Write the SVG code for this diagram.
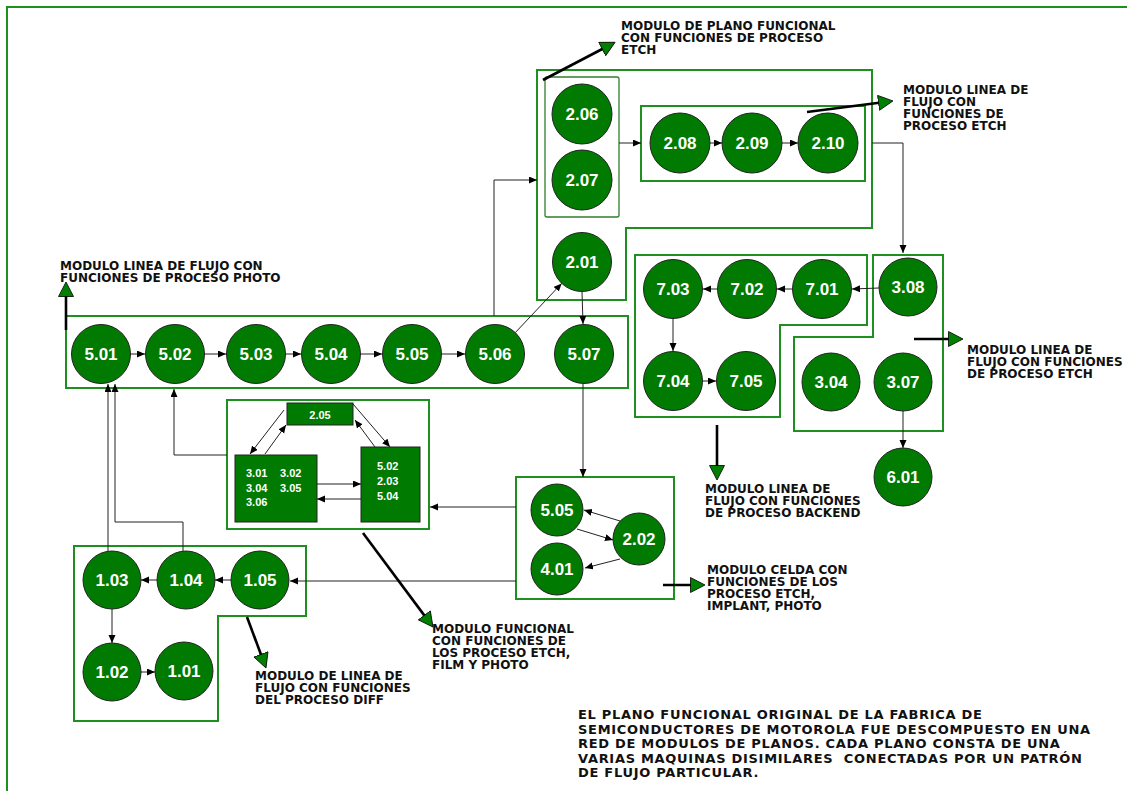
<svg xmlns="http://www.w3.org/2000/svg" width="1127" height="791" viewBox="0 0 1127 791">
<style>
.mod{fill:none;stroke:#1f8f1f;stroke-width:2}
.inner{fill:none;stroke:#2f7f2f;stroke-width:1.3}
.nd circle{fill:#007a00;stroke:#222;stroke-width:1}
.nd text{font-family:"Liberation Sans",Arial,sans-serif;font-weight:bold;font-size:17px;fill:#fff;text-anchor:middle}
.box{fill:#007a00;stroke:#222;stroke-width:1}
.bt{font-family:"Liberation Sans",Arial,sans-serif;font-weight:bold;font-size:11px;fill:#fff}
.lbl{font-family:"DejaVu Sans",Verdana,sans-serif;font-weight:bold;font-size:12px;fill:#111}
.big{font-family:"DejaVu Sans",Verdana,sans-serif;font-weight:bold;font-size:13px;letter-spacing:0.7px;fill:#111}
.c{fill:none;stroke:#222;stroke-width:1;marker-end:url(#a)}
.g{fill:none;stroke:#000;stroke-width:2.6;marker-end:url(#gh)}
</style>
<defs>
<marker id="a" markerUnits="userSpaceOnUse" markerWidth="9" markerHeight="8" refX="8" refY="3.5" orient="auto">
<path d="M0,0 L8,3.5 L0,7 z" fill="#000"/>
</marker>
<marker id="gh" markerUnits="userSpaceOnUse" markerWidth="18" markerHeight="18" refX="7" refY="8" orient="auto">
<path d="M0.5,0.5 L15,8 L0.5,15.5 z" fill="#008000" stroke="#000" stroke-width="0.8"/>
</marker>
</defs>
<rect width="1127" height="791" fill="#fff"/>
<path d="M7,791 L7,7 L1127,7" fill="none" stroke="#1f8f1f" stroke-width="2"/>

<g id="modules">
<path class="mod" d="M537,70 L872,70 L872,228 L626,228 L626,300 L537,300 Z"/>
<rect class="inner" x="545" y="77" width="74" height="140" rx="2"/>
<rect class="mod" x="641" y="106" width="224" height="75"/>
<rect class="mod" x="66" y="316" width="562" height="72"/>
<path class="mod" d="M635,255 L867,255 L867,325 L780,325 L780,417 L635,417 Z"/>
<path class="mod" d="M873,255 L943,255 L943,431 L794,431 L794,337 L873,337 Z"/>
<rect class="mod" x="227" y="400" width="202" height="129"/>
<rect class="mod" x="516" y="477" width="158" height="122"/>
<path class="mod" d="M74,546 L306,546 L306,616 L218,616 L218,721 L74,721 Z"/>
</g>

<g id="connectors">
<path class="c" d="M131,354 L145,354"/>
<path class="c" d="M205,354 L226,354"/>
<path class="c" d="M286,354 L301,354"/>
<path class="c" d="M361,354 L382,354"/>
<path class="c" d="M442,354 L465,354"/>
<path class="c" d="M515.3,332.6 L561.7,283.4"/>
<path class="c" d="M582,292 L583,324"/>
<path class="c" d="M494,316 L494,180 L537,180"/>
<path class="c" d="M619,143 L641,143"/>
<path class="c" d="M710,143 L722,143"/>
<path class="c" d="M782,143 L798,143"/>
<path class="c" d="M872,143 L903,143 L903,253"/>
<path class="c" d="M879,288 L852,289"/>
<path class="c" d="M792,289 L777,289"/>
<path class="c" d="M717,289 L703,289"/>
<path class="c" d="M673,319 L673,351"/>
<path class="c" d="M703,381 L716,381"/>
<path class="c" d="M903,411 L903,448"/>
<path class="c" d="M583,384 L583,477"/>
<path class="c" d="M516,507 L430,507"/>
<path class="c" d="M516,581 L290,581"/>
<path class="c" d="M227,455 L174,455 L174,389"/>
<path class="c" d="M108,551 L108,384"/>
<path class="c" d="M183,551 L183,522 L115,522 L115,384"/>
<path class="c" d="M231,580 L215,580"/>
<path class="c" d="M157,580 L141,580"/>
<path class="c" d="M112,609 L112,643"/>
<path class="c" d="M141,672 L155,672"/>
<path class="c" d="M620,521 L584,510"/>
<path class="c" d="M577,529 L613,540"/>
<path class="c" d="M620,559 L585,568"/>
<path class="c" d="M284,410 L250,454"/>
<path class="c" d="M265,454 L286,425"/>
<path class="c" d="M353,404 L390,447"/>
<path class="c" d="M375,447 L355,420"/>
<path class="c" d="M317,484 L361,484"/>
<path class="c" d="M361,499 L317,499"/>
<path class="g" d="M543,80 L608,46"/>
<path class="g" d="M807,112 L885,102"/>
<path class="g" d="M66,330 L66,290"/>
<path class="g" d="M914,339 L955,339"/>
<path class="g" d="M717,425 L717,472"/>
<path class="g" d="M663,585 L697,585"/>
<path class="g" d="M247,617 L263.2,660.5"/>
<path class="g" d="M363,533 L428.2,620.6"/>
</g>

<g id="n206" class="nd"><circle cx="582" cy="114" r="30"/><text x="582" y="120">2.06</text></g>
<g id="n207" class="nd"><circle cx="582" cy="180" r="30"/><text x="582" y="186">2.07</text></g>
<g id="n208" class="nd"><circle cx="680" cy="143" r="30"/><text x="680" y="149">2.08</text></g>
<g id="n209" class="nd"><circle cx="752" cy="143" r="30"/><text x="752" y="149">2.09</text></g>
<g id="n210" class="nd"><circle cx="828" cy="143" r="30"/><text x="828" y="149">2.10</text></g>
<g id="n201" class="nd"><circle cx="582" cy="262" r="29.5"/><text x="582" y="268">2.01</text></g>
<g id="n501" class="nd"><circle cx="101" cy="354" r="29.5"/><text x="101" y="360">5.01</text></g>
<g id="n502" class="nd"><circle cx="175" cy="354" r="29.5"/><text x="175" y="360">5.02</text></g>
<g id="n503" class="nd"><circle cx="256" cy="354" r="29.5"/><text x="256" y="360">5.03</text></g>
<g id="n504" class="nd"><circle cx="331" cy="354" r="29.5"/><text x="331" y="360">5.04</text></g>
<g id="n505" class="nd"><circle cx="412" cy="354" r="29.5"/><text x="412" y="360">5.05</text></g>
<g id="n506" class="nd"><circle cx="495" cy="354" r="29.5"/><text x="495" y="360">5.06</text></g>
<g id="n507" class="nd"><circle cx="584" cy="354" r="29.5"/><text x="584" y="360">5.07</text></g>
<g id="n703" class="nd"><circle cx="673" cy="289" r="29.5"/><text x="673" y="295">7.03</text></g>
<g id="n702" class="nd"><circle cx="747" cy="289" r="29.5"/><text x="747" y="295">7.02</text></g>
<g id="n701" class="nd"><circle cx="822" cy="289" r="29.5"/><text x="822" y="295">7.01</text></g>
<g id="n704" class="nd"><circle cx="673" cy="381" r="29.5"/><text x="673" y="387">7.04</text></g>
<g id="n705" class="nd"><circle cx="746" cy="381" r="29.5"/><text x="746" y="387">7.05</text></g>
<g id="n308" class="nd"><circle cx="908" cy="287" r="29"/><text x="908" y="293">3.08</text></g>
<g id="n304" class="nd"><circle cx="831" cy="382" r="29"/><text x="831" y="388">3.04</text></g>
<g id="n307" class="nd"><circle cx="903" cy="382" r="29"/><text x="903" y="388">3.07</text></g>
<g id="n601" class="nd"><circle cx="903" cy="477" r="29"/><text x="903" y="483">6.01</text></g>
<g id="n505b" class="nd"><circle cx="557" cy="510" r="26"/><text x="557" y="516">5.05</text></g>
<g id="n202" class="nd"><circle cx="639" cy="539" r="26"/><text x="639" y="545">2.02</text></g>
<g id="n401" class="nd"><circle cx="557" cy="569" r="26"/><text x="557" y="575">4.01</text></g>
<g id="n103" class="nd"><circle cx="112" cy="580" r="29"/><text x="112" y="586">1.03</text></g>
<g id="n104" class="nd"><circle cx="186" cy="580" r="29"/><text x="186" y="586">1.04</text></g>
<g id="n105" class="nd"><circle cx="260" cy="580" r="29"/><text x="260" y="586">1.05</text></g>
<g id="n102" class="nd"><circle cx="112" cy="672" r="29"/><text x="112" y="678">1.02</text></g>
<g id="n101" class="nd"><circle cx="184" cy="671" r="29"/><text x="184" y="677">1.01</text></g>

<g id="b205"><rect class="box" x="287" y="403" width="66" height="22"/><text class="bt" x="320" y="419" text-anchor="middle">2.05</text></g>
<g id="b301"><rect class="box" x="235" y="455" width="82" height="67"/>
<text class="bt" x="246" y="477">3.01</text><text class="bt" x="280" y="477">3.02</text>
<text class="bt" x="246" y="492">3.04</text><text class="bt" x="280" y="492">3.05</text>
<text class="bt" x="246" y="506">3.06</text></g>
<g id="b502"><rect class="box" x="361" y="447" width="59" height="75"/>
<text class="bt" x="377" y="470">5.02</text><text class="bt" x="377" y="485">2.03</text><text class="bt" x="377" y="500">5.04</text></g>

<g id="labels">
<text class="lbl" x="621" y="30">MODULO DE PLANO FUNCIONAL</text>
<text class="lbl" x="621" y="42">CON FUNCIONES DE PROCESO</text>
<text class="lbl" x="621" y="54">ETCH</text>
<text class="lbl" x="903" y="94">MODULO LINEA DE</text>
<text class="lbl" x="903" y="106">FLUJO CON</text>
<text class="lbl" x="903" y="118">FUNCIONES DE</text>
<text class="lbl" x="903" y="130">PROCESO ETCH</text>
<text class="lbl" x="60" y="270">MODULO LINEA DE FLUJO CON</text>
<text class="lbl" x="60" y="282">FUNCIONES DE PROCESO PHOTO</text>
<text class="lbl" x="967" y="354">MODULO LINEA DE</text>
<text class="lbl" x="967" y="366">FLUJO CON FUNCIONES</text>
<text class="lbl" x="967" y="378">DE PROCESO ETCH</text>
<text class="lbl" x="705" y="493">MODULO LINEA DE</text>
<text class="lbl" x="705" y="505">FLUJO CON FUNCIONES</text>
<text class="lbl" x="705" y="517">DE PROCESO BACKEND</text>
<text class="lbl" x="707" y="574">MODULO CELDA CON</text>
<text class="lbl" x="707" y="586">FUNCIONES DE LOS</text>
<text class="lbl" x="707" y="598">PROCESO ETCH,</text>
<text class="lbl" x="707" y="610">IMPLANT, PHOTO</text>
<text class="lbl" x="432" y="633">MODULO FUNCIONAL</text>
<text class="lbl" x="432" y="645">CON FUNCIONES DE</text>
<text class="lbl" x="432" y="657">LOS PROCESO ETCH,</text>
<text class="lbl" x="432" y="669">FILM Y PHOTO</text>
<text class="lbl" x="255" y="680">MODULO DE LINEA DE</text>
<text class="lbl" x="255" y="692">FLUJO CON FUNCIONES</text>
<text class="lbl" x="255" y="704">DEL PROCESO DIFF</text>
<text class="big" x="578" y="719">EL PLANO FUNCIONAL ORIGINAL DE LA FABRICA DE</text>
<text class="big" x="578" y="733.5">SEMICONDUCTORES DE MOTOROLA FUE DESCOMPUESTO EN UNA</text>
<text class="big" x="578" y="748">RED DE MODULOS DE PLANOS. CADA PLANO CONSTA DE UNA</text>
<text class="big" x="578" y="762.5" xml:space="preserve">VARIAS MAQUINAS DISIMILARES  CONECTADAS POR UN PATRÓN</text>
<text class="big" x="578" y="777">DE FLUJO PARTICULAR.</text>
</g>
</svg>
